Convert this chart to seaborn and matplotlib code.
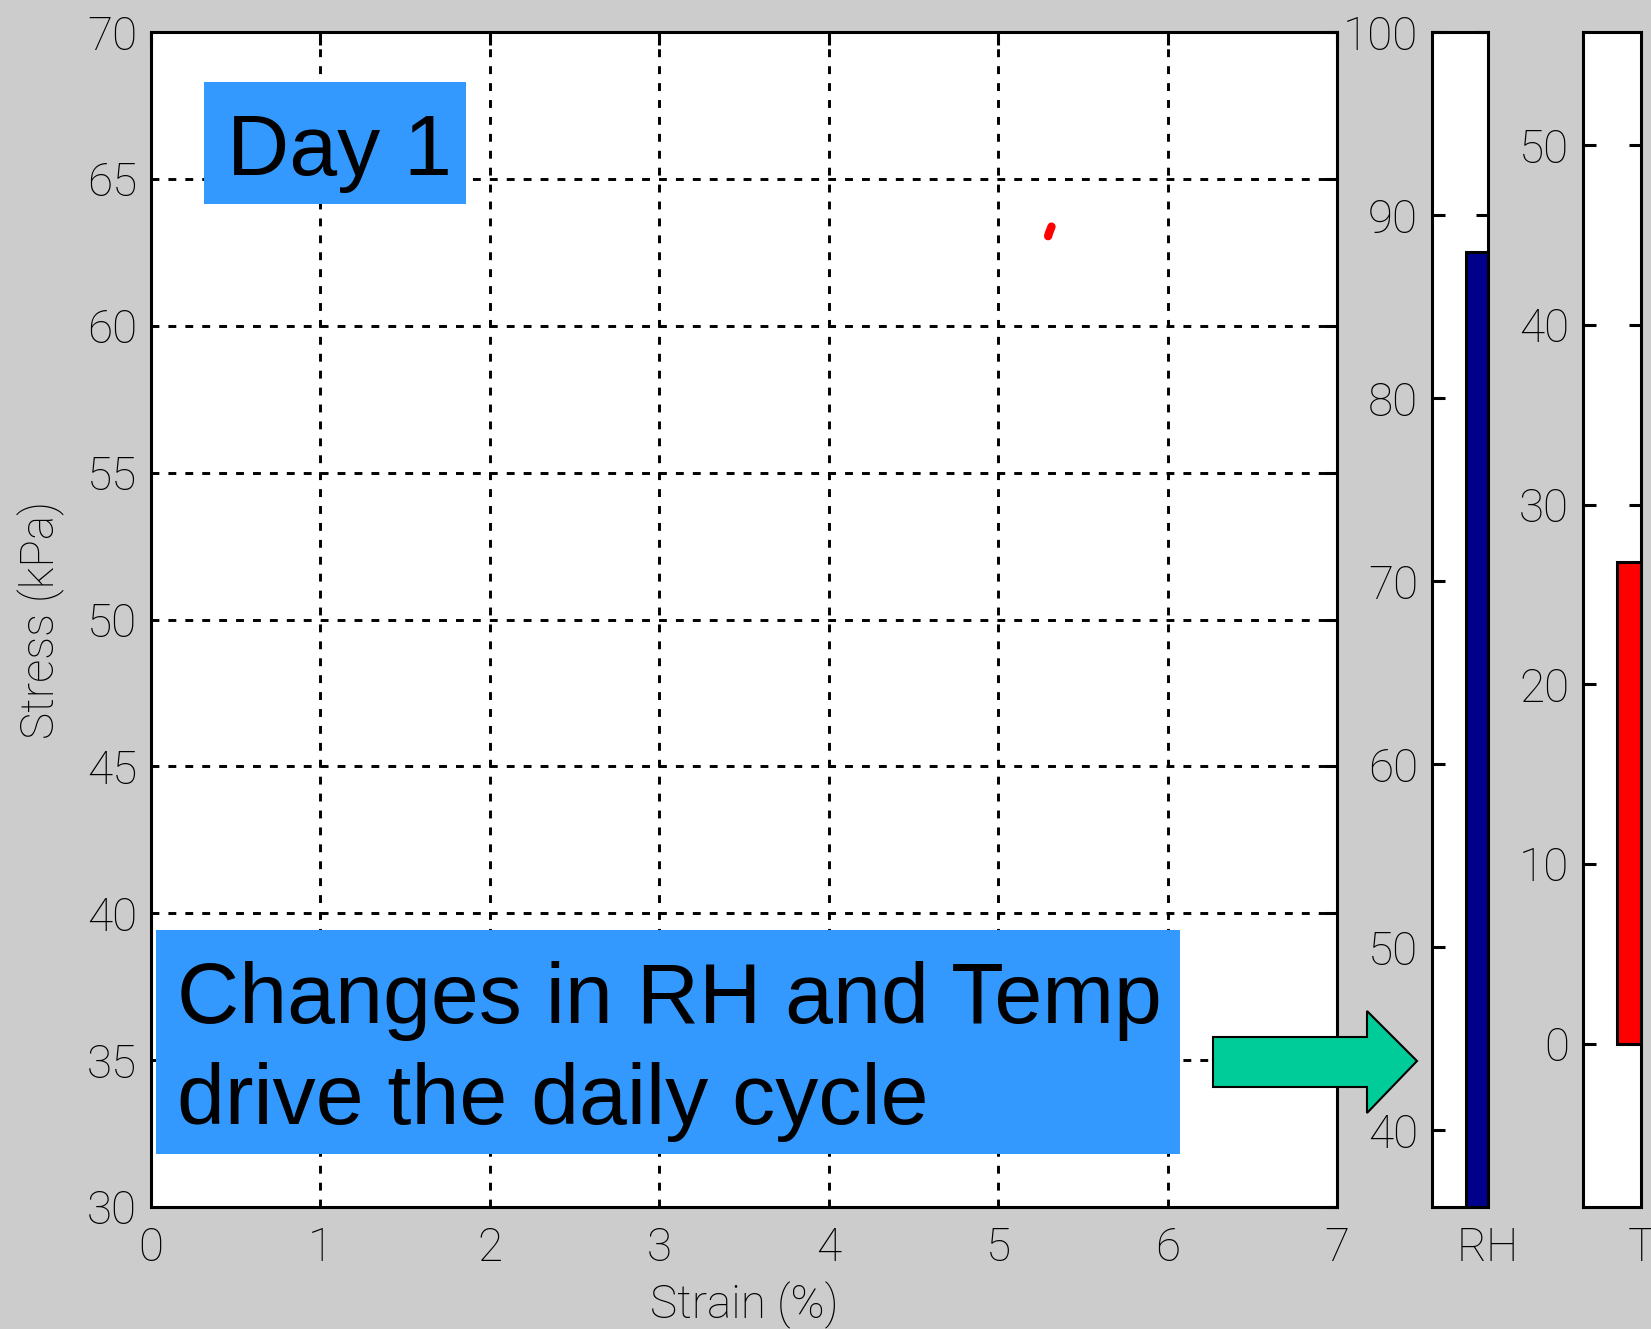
import matplotlib
matplotlib.use("Agg")
import matplotlib.pyplot as plt
from matplotlib.patches import Rectangle, Polygon
import seaborn as sns
import pandas as pd

# ---- data ----
strain_pts = [5.315, 5.315, 5.30, 5.295]
stress_pts = [63.45, 63.30, 63.15, 63.05]
rh_label = ["RH"]
rh_value = [88.0]
t_label = ["T"]
t_value = [26.8]
x_ticks = [0, 1, 2, 3, 4, 5, 6, 7]
y_ticks = [30, 35, 40, 45, 50, 55, 60, 65, 70]
rh_ticks = [40, 50, 60, 70, 80, 90, 100]
t_ticks = [0, 10, 20, 30, 40, 50]

sns.set_style("white")
plt.rcParams['font.family'] = ['Roboto', 'Liberation Sans', 'DejaVu Sans']
plt.rcParams['font.weight'] = 'light'
plt.rcParams['axes.labelweight'] = 'light'
plt.rcParams['text.color'] = 'black'
plt.rcParams['axes.labelcolor'] = 'black'
plt.rcParams['xtick.color'] = 'black'
plt.rcParams['ytick.color'] = 'black'

W, H = 1651, 1329
fig = plt.figure(figsize=(W / 100, H / 100), dpi=100, facecolor='#CCCCCC')

def fx(px):
    return px / W

def fy(py):
    return 1 - py / H

FS = 33
SPINE = 2.2

def style_axes(ax):
    ax.set_facecolor('white')
    for s in ax.spines.values():
        s.set_visible(True)
        s.set_color('black')
        s.set_linewidth(SPINE)

# ---- main axes ----
top, bot = 32, 1207
ax = fig.add_axes([fx(151), fy(bot), fx(1337) - fx(151), fy(top) - fy(bot)])
style_axes(ax)
df = pd.DataFrame({"Strain": strain_pts, "Stress": stress_pts})
sns.lineplot(data=df, x="Strain", y="Stress", sort=False, color='red', lw=6, ax=ax, zorder=5)
ax.set_xlim(0, 7)
ax.set_ylim(30, 70)
ax.set_xticks(x_ticks)
ax.set_yticks(y_ticks)
ax.grid(True, color='black', linestyle=(0, (2.7, 3.1)), linewidth=2.1)
ax.tick_params(direction='in', length=9, width=SPINE, labelsize=FS, top=True, right=True,
               colors='black')
ax.tick_params(axis='x', pad=14)
ax.tick_params(axis='y', pad=10)
ax.set_xlabel("Strain (%)", fontsize=FS, labelpad=8, fontweight='light')
ax.set_ylabel("Stress (kPa)", fontsize=FS, labelpad=16, fontweight='light')

# ---- RH axes ----
axr = fig.add_axes([fx(1432), fy(bot), fx(1488) - fx(1432), fy(top) - fy(bot)])
style_axes(axr)
sns.barplot(x=rh_label, y=rh_value, color='#00008B', saturation=1, width=0.786,
            edgecolor='black', linewidth=2.2, ax=axr)
axr.set_xlim(-1, 0)
axr.set_ylim(35.8, 100)
axr.set_yticks(rh_ticks)
axr.tick_params(axis='y', direction='in', length=9, width=SPINE, labelsize=FS, right=True, left=True, pad=10)
axr.tick_params(axis='x', length=0, labelsize=FS, pad=14)
axr.set_xlabel("")
axr.set_ylabel("")

# ---- T axes ----
axt = fig.add_axes([fx(1583), fy(bot), fx(1641) - fx(1583), fy(top) - fy(bot)])
style_axes(axt)
sns.barplot(x=t_label, y=t_value, color='#FF0000', saturation=1, width=0.83,
            edgecolor='black', linewidth=2.2, ax=axt)
axt.set_xlim(-1, 0)
axt.set_ylim(-9.1, 56.3)
axt.set_yticks(t_ticks)
axt.tick_params(axis='y', direction='in', length=9, width=SPINE, labelsize=FS, right=True, left=True, pad=10)
axt.tick_params(axis='x', length=0, labelsize=FS, pad=14)
axt.set_xlabel("")
axt.set_ylabel("")

# ---- annotations ----
blue = '#3399FF'
ann_font = ['Liberation Sans', 'DejaVu Sans']
fig.patches.append(Rectangle((fx(204), fy(204)), fx(466) - fx(204), fy(82) - fy(204),
                             transform=fig.transFigure, facecolor=blue, edgecolor='none', zorder=5))
fig.text(fx(227), fy(175), "Day 1", fontsize=62, color='black', ha='left', va='baseline', zorder=6,
         family=ann_font, weight='normal')

fig.patches.append(Rectangle((fx(156), fy(1154)), fx(1180) - fx(156), fy(930) - fy(1154),
                             transform=fig.transFigure, facecolor=blue, edgecolor='none', zorder=5))
fig.text(fx(177), fy(1023), "Changes in RH and Temp", fontsize=62, color='black', ha='left',
         va='baseline', zorder=6, family=ann_font, weight='normal')
fig.text(fx(177), fy(1124), "drive the daily cycle", fontsize=62, color='black', ha='left',
         va='baseline', zorder=6, family=ann_font, weight='normal')

arrow_px = [(1213, 1037), (1367, 1037), (1367, 1011), (1417, 1061), (1367, 1113),
            (1367, 1087), (1213, 1087)]
fig.patches.append(Polygon([(fx(a), fy(b)) for a, b in arrow_px], closed=True,
                           transform=fig.transFigure, facecolor='#00CC99', edgecolor='black',
                           linewidth=1.5, zorder=7))

fig.savefig("out.png", dpi=100, facecolor=fig.get_facecolor())
